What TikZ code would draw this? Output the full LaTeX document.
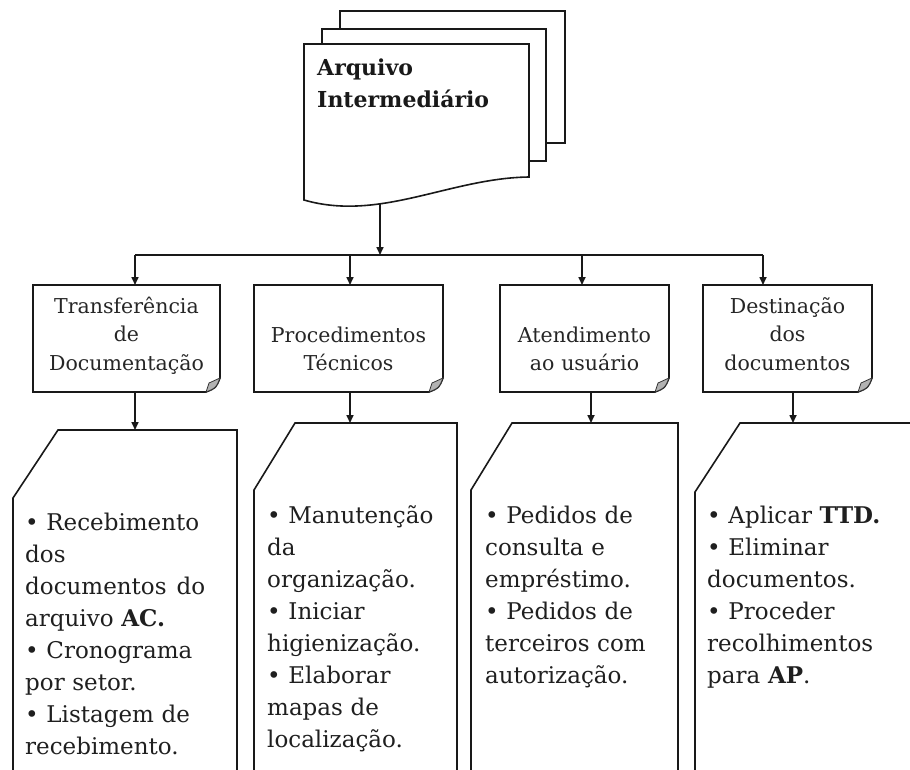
\documentclass[tikz,border=0pt]{standalone}
\usepackage{fontspec}
\setmainfont{DejaVu Serif}
\usetikzlibrary{arrows.meta,calc}

\tikzset{
  ln/.style={line width=1.6pt, draw=black!90, line join=miter},
  arr/.style={ln, -{Triangle[length=8pt,width=7pt]}},
  sheet/.style={ln, fill=white},
  flap/.style={line width=0.8pt, draw=black!80, fill=black!30},
  headtxt/.style={inner sep=0, anchor=base west, align=left, text width=200pt,
    font=\bfseries\fontsize{22}{32}\selectfont, text=black!90},
  boxtxt/.style={inner sep=0, anchor=base, align=center, text width=180pt,
    font=\fontsize{20.5}{28.5}\selectfont, text=black!85},
  listtxt/.style={inner sep=0, anchor=base west, align=left, text width=230pt,
    font=\fontsize{23}{32}\selectfont, text=black!88},
}

% box with a curled lower-right corner: name, x1, y1, x2, y2
\newcommand\foldbox[5]{%
  \draw[ln, fill=white] (#2,#3) -- (#4,#3) -- (#4,#5-14)
     .. controls (#4-4,#5-4) .. (#4-14,#5) -- (#2,#5) -- cycle;
  \draw[flap] (#4,#5-14) -- (#4-11,#5-9) -- (#4-14,#5)
     .. controls (#4-4,#5-4) .. cycle;
  \coordinate (#1) at ({(#2+#4)/2},{(#3+#5)/2});
}

% list box with a clipped upper-left corner: name, xl, ycut, xtop, ytop, xr
\newcommand\cutbox[6]{%
  \draw[ln, fill=white] (#2,790) -- (#2,#3) -- (#4,#5) -- (#6,#5) -- (#6,790);
  \coordinate (#1) at ({(#2+#6)/2},#5);
}

\begin{document}
\begin{tikzpicture}[x=1pt,y=-1pt]
\useasboundingbox (0,0) rectangle (910,769);
\clip (0,0) rectangle (910,769);

% stack of documents
\draw[sheet] (340,11) rectangle (565,143);
\draw[sheet] (322,29) rectangle (546,161);
\draw[sheet] (304,44) -- (529,44) -- (529,177)
   .. controls (450,178) and (380,222) .. (304,200) -- cycle;
\node[headtxt] (arq) at (317,75) {Arquivo\\Intermediário};
\coordinate (arqbot) at (380,204);

% distribution line
\coordinate (bus) at (380,255);
\coordinate (busL) at (135,255);
\coordinate (busR) at (763,255);
\coordinate (bus2) at (350,255);
\coordinate (bus3) at (582,255);
\draw[ln] (busL) -- (busR);
\draw[arr] (arqbot) -- (bus);

% second level boxes
\foldbox{b1}{33}{285}{220}{392}
\foldbox{b2}{254}{285}{443}{392}
\foldbox{b3}{500}{285}{669}{392}
\foldbox{b4}{703}{285}{872}{392}

\node[boxtxt] (t1) at (126.5,313) {Transferência\\de\\Documentação};
\node[boxtxt] (t2) at (348.5,342) {Procedimentos\\Técnicos};
\node[boxtxt] (t3) at (584.5,342) {Atendimento\\ao usuário};
\node[boxtxt] (t4) at (787.5,313) {Destinação\\dos\\documentos};

\coordinate (b1top) at (135,285);
\coordinate (b2top) at (350,285);
\coordinate (b3top) at (582,285);
\coordinate (b4top) at (763,285);
\draw[arr] (busL) -- (b1top);
\draw[arr] (bus2) -- (b2top);
\draw[arr] (bus3) -- (b3top);
\draw[arr] (busR) -- (b4top);

% third level boxes
\cutbox{l1}{13}{498}{58}{430}{237}
\cutbox{l2}{254}{490}{295}{423}{457}
\cutbox{l3}{471}{490}{512}{423}{678}
\cutbox{l4}{695}{492}{740}{423}{930}

\coordinate (b1bot) at (135,392);
\coordinate (b2bot) at (350,392);
\coordinate (b3bot) at (591,392);
\coordinate (b4bot) at (793,392);
\coordinate (l1top) at (135,430);
\coordinate (l2top) at (350,423);
\coordinate (l3top) at (591,423);
\coordinate (l4top) at (793,423);
\draw[arr] (b1bot) -- (l1top);
\draw[arr] (b2bot) -- (l2top);
\draw[arr] (b3bot) -- (l3top);
\draw[arr] (b4bot) -- (l4top);

\node[listtxt] (x1) at (25,530) {• Recebimento\\dos\\documentos\hspace{10pt}do\\arquivo \textbf{AC.}\\• Cronograma\\por setor.\\• Listagem de\\recebimento.};
\node[listtxt] (x2) at (267,523) {• Manutenção\\da\\organização.\\• Iniciar\\higienização.\\• Elaborar\\mapas de\\localização.};
\node[listtxt] (x3) at (485,523) {• Pedidos de\\consulta e\\empréstimo.\\• Pedidos de\\terceiros com\\autorização.};
\node[listtxt] (x4) at (707,523) {• Aplicar \textbf{TTD.}\\• Eliminar\\documentos.\\• Proceder\\recolhimentos\\para \textbf{AP}.};
\end{tikzpicture}
\end{document}
